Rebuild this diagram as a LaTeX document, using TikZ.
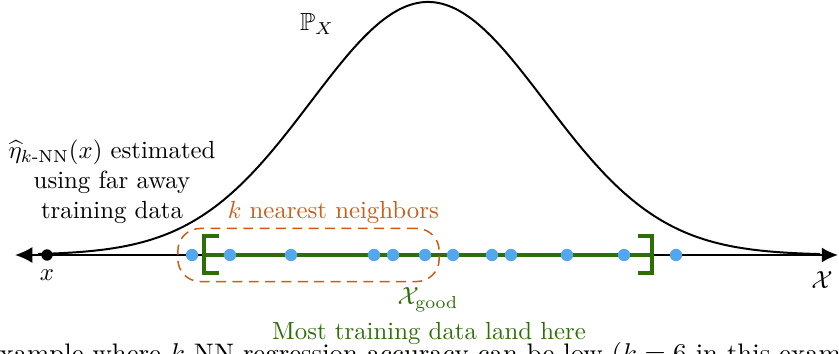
\documentclass[tikz,border=0pt]{standalone}
\usepackage{amsmath}
\usepackage{amssymb}
\usepackage{tikz}
\usepackage{xcolor}
\usetikzlibrary{arrows.meta,positioning,fit}

\definecolor{goodgreen}{RGB}{46,110,8}
\definecolor{nnorange}{RGB}{204,92,20}
\definecolor{datablue}{RGB}{84,166,238}

\begin{document}
\begin{tikzpicture}[
    x=0.01417cm, y=-0.01417cm,
    >=Latex,
    axisline/.style={line width=0.8pt, draw=black},
    density/.style={line width=0.8pt, draw=black},
    sample/.style={circle, fill=datablue, inner sep=0pt, minimum size=5pt},
    query/.style={circle, fill=black, inner sep=0pt, minimum size=4.6pt},
    bracket/.style={line width=1.9pt, draw=goodgreen},
    nnbox/.style={
      draw=nnorange,
      line width=0.6pt,
      dash pattern=on 4pt off 2.6pt,
      rounded corners=9pt,
      inner xsep=3pt,
      inner ysep=8pt
    }
  ]
    \useasboundingbox (0,0) rectangle (839,354);
    \clip (0,0) rectangle (839,354);

    \coordinate (axL) at (15,255);
    \coordinate (axR) at (838,255);
    \draw[axisline, {Latex[length=7pt,width=6.5pt]}-{Latex[length=6.5pt,width=6pt]}] (axL) -- (axR);

    \draw[density] plot[domain=38:820, samples=120, smooth]
      ({\x}, {255-253*exp(-0.5*((\x-428)/117)^2)});

    \node[query] (xpt) at (47,255) {};
    \node[below=0pt of xpt] (xlab) {$x$};

    \coordinate (gL) at (204,255);
    \coordinate (gR) at (652,255);
    \draw[bracket] (gL) -- (gR);
    \draw[bracket] (gL) ++(15,-19) -- ++(-15,0) -- ++(0,37) -- ++(15,0);
    \draw[bracket] (gR) ++(-14,-19) -- ++(14,0) -- ++(0,37) -- ++(-14,0);

    \foreach \px [count=\i] in {192,230,291,374,393,425,453,492,511,567,624,676}
      \node[sample] (d\i) at (\px,255) {};

    \node[nnbox, fit=(d1) (d6)] (nnb) {};
    \node[text=nnorange, above=-2pt of nnb, xshift=10pt] (nnlab) {$k$ nearest neighbors};

    \node[text=goodgreen] (xgood) at (428,300) {$\mathcal{X}_{\text{good}}$};
    \node[text=goodgreen] (most) at (429,333) {Most training data land here};

    \node[align=center] (est) at (112,182) {
      $\widehat{\eta}_{k\text{-NN}}(x)$ estimated\\ using far away\\ training data
    };
    \node (px) at (317,24) {$\mathbb{P}_X$};
    \node (calx) at (822,280) {$\mathcal{X}$};

    \node[anchor=base west, font=\fontsize{10.8}{13}\selectfont] (caption) at (-21,362) {
      example where $k$-NN regression accuracy can be low ($k=6$ in this example).
    };
  \end{tikzpicture}
\end{document}
